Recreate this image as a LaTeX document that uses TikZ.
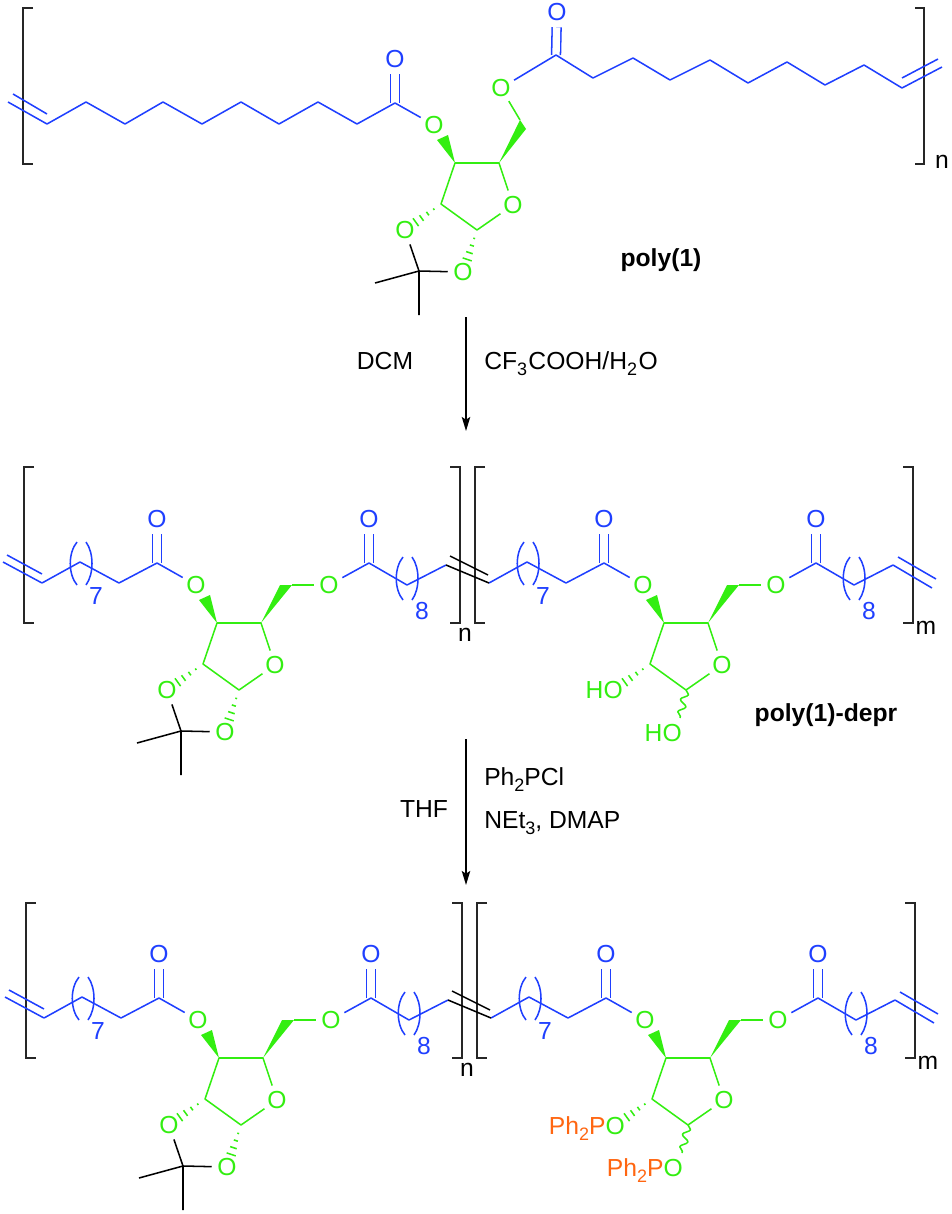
\documentclass[tikz,border=0pt]{standalone}
\usepackage{fontspec}
\setmainfont{Liberation Sans}
\usepackage{xcolor}
\usetikzlibrary{arrows.meta, calc, decorations.pathmorphing}

\definecolor{sugargreen}{RGB}{51,238,17}
\definecolor{chainblue}{RGB}{31,63,255}
\definecolor{phosorange}{RGB}{255,102,17}

\newcommand{\lowidx}[1]{\raisebox{-0.28em}{\fontsize{13.5}{13.5}\selectfont #1}}
\newcommand{\hashbond}[2]{%
  \foreach \f/\w in {0.2/0.7pt,0.37/1.6pt,0.54/2.6pt,0.7/3.6pt}{%
    \draw[sbond] ($(#1)!\f!(#2)!\w!90:(#2)$) -- ($(#1)!\f!(#2)!\w!-90:(#2)$);}}

\begin{document}
\begin{tikzpicture}[
    x=0.75pt, y=-0.75pt,
    bond/.style={line width=1.15pt, line join=round},
    cbond/.style={bond, draw=chainblue},
    sbond/.style={bond, draw=sugargreen},
    dbl/.style={cbond, double=white, double distance=5.5pt},
    bracket/.style={line width=1.2pt, draw=black!85},
    arrow/.style={-{Stealth[length=10.5pt, width=6.3pt, inset=2pt]}, line width=1.2pt},
    lab/.style={font=\fontsize{18.5}{18.5}\selectfont, inner sep=0pt},
    boldlab/.style={lab, font=\fontsize{18.5}{18.5}\selectfont\bfseries},
    atom/.style={lab, circle, minimum size=22.5pt},
    atomg/.style={atom, text=sugargreen},
    atomb/.style={atom, text=chainblue},
    wavy/.style={sbond, decorate, decoration={snake, amplitude=2.6pt, segment length=9.5pt}},
    sugar/.pic={
        \coordinate (c3) at (0,0);
        \coordinate (c4) at (44,0);
        \coordinate (c2) at (-14,41);
        \coordinate (c1) at (22,67);
        \coordinate (ot) at (-50,67);
        \node[atomg] (ox) at (58,42) {O};
        \node[atomg] (oa) at (-21,-38) {O};
        \draw[sbond] (c3) -- (c4) -- (ox) -- (c1) -- (c2) -- (c3);
        \fill[sugargreen] (c3) -- (-18,-23) -- (-7,-28) -- cycle;
    },
    acetonide/.pic={
        \coordinate (c2) at (-14,41);
        \coordinate (c1) at (22,67);
        \coordinate (cq) at (-36,108);
        \coordinate (me1) at (-80,120);
        \coordinate (me2) at (-36,152);
        \node[atomg] (o2) at (-50,67) {O};
        \node[atomg] (o1) at (8,109) {O};
        \hashbond{c2}{o2}
        \hashbond{c1}{o1}
        \draw[bond] (me1) -- (cq) -- (me2);
        \draw[bond] (o2) -- (cq) -- (o1);
    },
    repeatunit/.pic={
        \coordinate (l) at (0,0);
        \coordinate (ca) at (115,-20);
        \coordinate (ch) at (250,2);
        \coordinate (cb) at (327,-20);
        \coordinate (r) at (404,-18);
        \node[atomb] (oa) at (115,-64) {O};
        \node[atomb] (ob) at (327,-64) {O};
        \node[atomg] (oe) at (287,2) {O};
        \node[lab, text=chainblue] (seven) at (54,13) {7};
        \node[lab, text=chainblue] (eight) at (380,28) {8};
        \pic (s) at (175,40) {sugar};
        \draw[dbl] (ca) -- (oa);
        \draw[dbl] (cb) -- (ob);
        \draw[cbond] (l) -- (38,-21) -- (77,0) -- (ca) -- (soa);
        \draw[cbond] (oe) -- (cb) -- (365,2) -- (r);
        \fill[sugargreen] (sc4) -- (238,2) -- (ch) -- cycle;
        \draw[sbond] (ch) -- (oe);
        \draw[cbond] (35,-41) .. controls (26,-30) and (26,-9) .. (35,2);
        \draw[cbond] (44,-41) .. controls (52,-30) and (52,-9) .. (44,2);
        \draw[cbond] (361,-26) .. controls (352,-15) and (352,6) .. (361,17);
        \draw[cbond] (370,-26) .. controls (378,-15) and (378,6) .. (370,17);
    }
]
\useasboundingbox (0,0) rectangle (951,1214);

% poly(1)
\draw[bracket] (33,8) -- (23,8) -- (23,164) -- (33,164);
\draw[bracket] (915,8) -- (924,8) -- (924,164) -- (915,164);
\node[lab] (nt) at (942,162) {n};
\pic (top) at (455,163) {sugar};
\pic (topk) at (455,163) {acetonide};
\coordinate (tca) at (395,103);
\coordinate (tcb) at (556,55);
\coordinate (tch) at (520,120);
\node[atomb] (toa) at (395,59) {O};
\node[atomb] (tob) at (557,12) {O};
\node[atomg] (toe) at (501,88) {O};
\draw[dbl] (tca) -- (toa);
\draw[dbl] (tcb) -- (tob);
\draw[cbond] (8,102) -- (47,124) -- (86,102) -- (125,124) -- (163,102) -- (202,124) -- (241,102)
    -- (279,124) -- (318,102) -- (357,124) -- (tca) -- (topoa);
\draw[cbond] (13,94) -- (47,114);
\draw[cbond] (toe) -- (tcb) -- (593,78) -- (633,58) -- (670,80) -- (710,60) -- (748,83) -- (787,62)
    -- (825,85) -- (864,65) -- (902,88) -- (942,67);
\draw[cbond] (902,78) -- (938,59);
\fill[sugargreen] (topc4) -- (tch) -- (526,129) -- cycle;
\draw[sbond] (tch) -- (toe);
\node[boldlab] (name1) at (661,260) {poly(1)};

% first step
\coordinate (a1) at (466,317);
\coordinate (a2) at (466,431);
\draw[arrow] (a1) -- (a2);
\node[lab] (dcm) at (385,361) {DCM};
\node[lab, anchor=base west] (tfa) at (484,369) {CF\lowidx{3}\kern1pt COOH/H\lowidx{2}\kern1pt O};

% poly(1)-depr
\draw[bracket] (34,467) -- (24,467) -- (24,623) -- (34,623);
\draw[bracket] (450,467) -- (460,467) -- (460,623) -- (450,623);
\draw[bracket] (485,467) -- (475,467) -- (475,623) -- (485,623);
\draw[bracket] (903,467) -- (913,467) -- (913,623) -- (903,623);
\node[lab] (nm) at (465,635) {n};
\node[lab] (mm) at (926,628) {m};
\pic (u) at (42,583) {repeatunit};
\pic (v) at (489,583) {repeatunit};
\pic (uk) at (usc3) {acetonide};
\draw[cbond] (3,562) -- (ul);
\draw[cbond] (7,555) -- (42,574);
\draw[bond] (ur) -- (vl);
\draw[bond] (450,556) -- (488,575);
\draw[cbond] (vr) -- (932,588);
\draw[cbond] (898,557) -- (936,579);
\hashbond{vsc2}{vsot}
\node[lab, text=sugargreen, anchor=base east] (ho1) at (623,698) {HO};
\node[lab, text=sugargreen, anchor=base east] (ho2) at (682,741) {HO};
\coordinate (w1) at (680,718);
\draw[wavy] (vsc1) -- (w1);
\node[boldlab] (name2) at (826,715) {poly(1)-depr};

% second step
\coordinate (a3) at (466,739);
\coordinate (a4) at (466,885);
\draw[arrow] (a3) -- (a4);
\node[lab] (thf) at (424,809) {THF};
\node[lab, anchor=base west] (ppcl) at (484,785) {Ph\lowidx{2}PCl};
\node[lab, anchor=base west] (net) at (484,828) {NEt\lowidx{3}, DMAP};

% phosphinite
\draw[bracket] (36,903) -- (26,903) -- (26,1058) -- (36,1058);
\draw[bracket] (452,903) -- (462,903) -- (462,1058) -- (452,1058);
\draw[bracket] (487,903) -- (477,903) -- (477,1058) -- (487,1058);
\draw[bracket] (905,903) -- (915,903) -- (915,1058) -- (905,1058);
\node[lab] (nb) at (467,1070) {n};
\node[lab] (mb) at (928,1063) {m};
\pic (p) at (44,1018) {repeatunit};
\pic (q) at (491,1018) {repeatunit};
\pic (pk) at (psc3) {acetonide};
\draw[cbond] (5,997) -- (pl);
\draw[cbond] (9,990) -- (44,1009);
\draw[bond] (pr) -- (ql);
\draw[bond] (452,991) -- (490,1010);
\draw[cbond] (qr) -- (934,1023);
\draw[cbond] (900,992) -- (938,1014);
\hashbond{qsc2}{qsot}
\node[lab, text=sugargreen, anchor=base east] (po1) at (625,1134) {\textcolor{phosorange}{Ph\lowidx{2}P}O};
\node[lab, text=sugargreen, anchor=base east] (po2) at (683,1176) {\textcolor{phosorange}{Ph\lowidx{2}P}O};
\coordinate (w2) at (682,1153);
\draw[wavy] (qsc1) -- (w2);
\end{tikzpicture}
\end{document}
